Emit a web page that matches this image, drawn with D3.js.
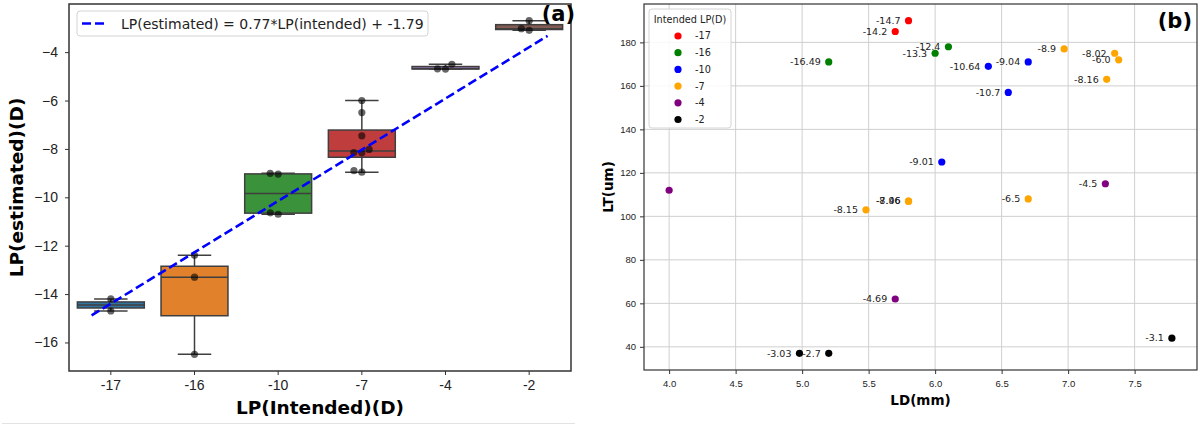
<!DOCTYPE html>
<html>
<head>
<meta charset="utf-8">
<script src="https://cdn.jsdelivr.net/npm/d3@7"></script>
<style>
  body { margin: 0; background: #fff; }
  svg { display: block; font-family: "DejaVu Sans", sans-serif; }
</style>
</head>
<body>
<svg id="chart" width="1200" height="426"></svg>
<script>
// intended lens power categories
const categories = [-17, -16, -10, -7, -4, -2];

// one entry per sample
const intendedLP = [-17, -17, -16, -16, -16, -10, -10, -10, -10, -7, -7, -7, -7, -7, -7, -7, -7, -4, -4, -4, -2, -2, -2];
const estimatedLP = [-14.7, -14.2, -16.49, -13.3, -12.4, -10.64, -9.04, -10.7, -9.01, -8.9, -8.02, -6.0, -8.16, -6.5, -8.15, -8.96, -7.46, -4.7, -4.5, -4.69, -3.03, -2.7, -3.1];
const ldValues = [5.8, 5.7, 5.2, 6.0, 6.1, 6.4, 6.7, 6.55, 6.05, 6.97, 7.35, 7.38, 7.29, 6.7, 5.48, 5.8, 5.8, 4.0, 7.28, 5.7, 4.98, 5.2, 7.78];
const ltValues = [190, 185, 171, 175, 178, 169, 171, 157, 125, 177, 175, 172, 163, 108, 103, 107, 107, 112, 115, 62, 37, 37, 44];
const hasLabel = [1, 1, 1, 1, 1, 1, 1, 1, 1, 1, 1, 1, 1, 1, 1, 1, 1, 0, 1, 1, 1, 1, 1];

// linear fit shown in panel (a)
const fitSlope = 0.77;
const fitIntercept = -1.79;
const fitX = [-17, -2];

const yTicksA = [-16, -14, -12, -10, -8, -6, -4];
const xTicksB = [4.0, 4.5, 5.0, 5.5, 6.0, 6.5, 7.0, 7.5];
const yTicksB = [40, 60, 80, 100, 120, 140, 160, 180];

const boxColors = ["#3274a1", "#e1812c", "#3a923a", "#c03d3e", "#9372b2", "#845b53"];
const dotColors = ["red", "green", "blue", "orange", "purple", "black"];

const svg = d3.select("#chart");
const pad5 = ext => { const m = (ext[1] - ext[0]) * 0.05; return [ext[0] - m, ext[1] + m]; };

// ---------------- panel (a) ----------------
const A = {left: 69, right: 571, top: 4, bottom: 371};
const samples = intendedLP.map((c, i) => ({c, est: estimatedLP[i], ld: ldValues[i], lt: ltValues[i], lab: hasLabel[i]}));

const xA = d3.scaleBand().domain(categories).range([A.left, A.right]);
const xIdx = d3.scaleLinear().domain([-0.5, categories.length - 0.5]).range([A.left, A.right]);
const fitY = fitX.map(x => fitSlope * x + fitIntercept);
const yA = d3.scaleLinear()
    .domain(pad5([Math.min(d3.min(estimatedLP), d3.min(fitY)), Math.max(d3.max(estimatedLP), d3.max(fitY))]))
    .range([A.bottom, A.top]);

const gA = svg.append("g");

gA.append("g")
    .attr("transform", `translate(0,${A.bottom})`)
    .call(d3.axisBottom(xA).tickSize(4).tickPadding(5))
    .call(g => g.select(".domain").remove())
    .call(g => g.selectAll("text").attr("font-size", 14).attr("fill", "#222"))
    .call(g => g.selectAll("line").attr("stroke", "#333"));

gA.append("g")
    .attr("transform", `translate(${A.left},0)`)
    .call(d3.axisLeft(yA).tickValues(yTicksA).tickSize(4).tickPadding(7))
    .call(g => g.select(".domain").remove())
    .call(g => g.selectAll("text").attr("font-size", 14).attr("fill", "#222"))
    .call(g => g.selectAll("line").attr("stroke", "#333"));

const boxW = xA.bandwidth() * 0.8;
const edge = "#3f3f3f";

categories.forEach((cat, ci) => {
    const vals = samples.filter(s => s.c === cat).map(s => s.est).sort(d3.ascending);
    const q1 = d3.quantileSorted(vals, 0.25), med = d3.quantileSorted(vals, 0.5), q3 = d3.quantileSorted(vals, 0.75);
    const iqr = q3 - q1;
    const lo = d3.min(vals.filter(v => v >= q1 - 1.5 * iqr));
    const hi = d3.max(vals.filter(v => v <= q3 + 1.5 * iqr));
    const cx = xA(cat) + xA.bandwidth() / 2;
    const g = gA.append("g");
    g.append("line").attr("x1", cx).attr("x2", cx).attr("y1", yA(q3)).attr("y2", yA(hi)).attr("stroke", edge).attr("stroke-width", 1.5);
    g.append("line").attr("x1", cx).attr("x2", cx).attr("y1", yA(q1)).attr("y2", yA(lo)).attr("stroke", edge).attr("stroke-width", 1.5);
    [lo, hi].forEach(v => g.append("line")
        .attr("x1", cx - boxW / 4).attr("x2", cx + boxW / 4)
        .attr("y1", yA(v)).attr("y2", yA(v))
        .attr("stroke", edge).attr("stroke-width", 1.5));
    g.append("rect")
        .attr("x", cx - boxW / 2).attr("width", boxW)
        .attr("y", yA(q3)).attr("height", Math.max(yA(q1) - yA(q3), 0.5))
        .attr("fill", boxColors[ci]).attr("stroke", edge).attr("stroke-width", 1.5);
    g.append("line").attr("x1", cx - boxW / 2).attr("x2", cx + boxW / 2)
        .attr("y1", yA(med)).attr("y2", yA(med)).attr("stroke", edge).attr("stroke-width", 1.5);

    // beeswarm of the samples
    const d = 8;
    const placed = [];
    vals.forEach(v => {
        const y = yA(v);
        const cands = [0];
        placed.forEach(p => {
            const dy = Math.abs(p.y - y);
            if (dy < d) { const dx = Math.sqrt(d * d - dy * dy); cands.push(p.x - dx, p.x + dx); }
        });
        cands.sort((a, b) => Math.abs(a) - Math.abs(b) || a - b);
        const x = cands.find(c => placed.every(p => Math.hypot(p.x - c, p.y - y) >= d - 1e-6));
        placed.push({x, y});
    });
    g.selectAll("circle").data(placed).join("circle")
        .attr("cx", p => cx + p.x).attr("cy", p => p.y).attr("r", 3.6)
        .attr("fill", "#000").attr("fill-opacity", 0.6);
});

// fitted line
const xFit = d3.scaleLinear().domain(fitX).range([xIdx(-0.23), xIdx(5.22)]);
gA.append("line")
    .attr("x1", xFit(fitX[0])).attr("y1", yA(fitY[0]))
    .attr("x2", xFit(fitX[1])).attr("y2", yA(fitY[1]))
    .attr("stroke", "#0000ff").attr("stroke-width", 2.6).attr("stroke-dasharray", "9,4");

gA.append("rect")
    .attr("x", A.left).attr("y", A.top)
    .attr("width", A.right - A.left).attr("height", A.bottom - A.top)
    .attr("fill", "none").attr("stroke", "#333").attr("stroke-width", 1.5);

// legend
const legA = gA.append("g").attr("transform", "translate(77,11)");
legA.append("rect").attr("width", 351).attr("height", 25).attr("rx", 3)
    .attr("fill", "#fff").attr("fill-opacity", 0.85).attr("stroke", "#d4d4d4");
legA.append("line").attr("x1", 5).attr("x2", 30).attr("y1", 12.5).attr("y2", 12.5)
    .attr("stroke", "#0000ff").attr("stroke-width", 2.6).attr("stroke-dasharray", "9,4");
legA.append("text").attr("x", 44).attr("y", 17.5).attr("font-size", 14).attr("fill", "#222")
    .text(`LP(estimated) = ${fitSlope}*LP(intended) + ${fitIntercept}`);

gA.append("text").attr("x", 575).attr("y", 21).attr("text-anchor", "end")
    .attr("font-size", 21).attr("font-weight", "bold").text("(a)");

gA.append("text").attr("x", (A.left + A.right) / 2).attr("y", 414).attr("text-anchor", "middle")
    .attr("font-size", 18.5).attr("font-weight", "bold").text("LP(Intended)(D)");
gA.append("text").attr("transform", `translate(23,${(A.top + A.bottom) / 2}) rotate(-90)`)
    .attr("text-anchor", "middle").attr("font-size", 18.5).attr("font-weight", "bold").text("LP(estimated)(D)");

svg.append("line").attr("x1", 2).attr("x2", 575).attr("y1", 423.5).attr("y2", 423.5).attr("stroke", "#e2e2e2");

// ---------------- panel (b) ----------------
const B = {left: 644, right: 1197, top: 4, bottom: 370};
const xB = d3.scaleLinear().domain(pad5(d3.extent(ldValues))).range([B.left, B.right]);
const yB = d3.scaleLinear().domain(pad5(d3.extent(ltValues))).range([B.bottom, B.top]);
const colorB = d3.scaleOrdinal().domain(categories).range(dotColors);

const gB = svg.append("g");

gB.append("g")
    .selectAll("line.gx").data(xTicksB).join("line")
    .attr("x1", d => xB(d)).attr("x2", d => xB(d)).attr("y1", B.top).attr("y2", B.bottom)
    .attr("stroke", "#cfcfcf").attr("stroke-width", 1);
gB.append("g")
    .selectAll("line.gy").data(yTicksB).join("line")
    .attr("y1", d => yB(d)).attr("y2", d => yB(d)).attr("x1", B.left).attr("x2", B.right)
    .attr("stroke", "#cfcfcf").attr("stroke-width", 1);

gB.append("g")
    .attr("transform", `translate(0,${B.bottom})`)
    .call(d3.axisBottom(xB).tickValues(xTicksB).tickFormat(d3.format(".1f")).tickSize(4).tickPadding(6))
    .call(g => g.select(".domain").remove())
    .call(g => g.selectAll("text").attr("font-size", 9.5).attr("fill", "#222"))
    .call(g => g.selectAll("line").attr("stroke", "#333"));
gB.append("g")
    .attr("transform", `translate(${B.left},0)`)
    .call(d3.axisLeft(yB).tickValues(yTicksB).tickSize(4).tickPadding(4))
    .call(g => g.select(".domain").remove())
    .call(g => g.selectAll("text").attr("font-size", 9.5).attr("fill", "#222"))
    .call(g => g.selectAll("line").attr("stroke", "#333"));

gB.selectAll("circle.pt").data(samples).join("circle")
    .attr("cx", s => xB(s.ld)).attr("cy", s => yB(s.lt)).attr("r", 3.6)
    .attr("fill", s => colorB(s.c));

const fmtLab = v => Number.isInteger(v) ? v.toFixed(1) : String(v);
gB.selectAll("text.lab").data(samples.filter(s => s.lab)).join("text")
    .attr("x", s => xB(s.ld) - 8).attr("y", s => yB(s.lt)).attr("dy", "0.35em")
    .attr("text-anchor", "end").attr("font-size", 9.5).attr("fill", "#222")
    .text(s => fmtLab(s.est));

gB.append("rect")
    .attr("x", B.left).attr("y", B.top)
    .attr("width", B.right - B.left).attr("height", B.bottom - B.top)
    .attr("fill", "none").attr("stroke", "#333").attr("stroke-width", 1.2);

// legend
const legB = gB.append("g").attr("transform", "translate(649,9)");
legB.append("rect").attr("width", 82).attr("height", 119).attr("rx", 3)
    .attr("fill", "#fff").attr("fill-opacity", 0.85).attr("stroke", "#d4d4d4");
legB.append("text").attr("x", 41).attr("y", 14).attr("text-anchor", "middle")
    .attr("font-size", 9.7).attr("fill", "#222").text("Intended LP(D)");
const rowsB = legB.selectAll("g.row").data(categories).join("g")
    .attr("transform", (d, i) => `translate(0,${27 + i * 16.7})`);
rowsB.append("circle").attr("cx", 29).attr("r", 3.6).attr("fill", d => colorB(d));
rowsB.append("text").attr("x", 46).attr("dy", "0.35em").attr("font-size", 9.7).attr("fill", "#222").text(d => d);

gB.append("text").attr("x", 1192).attr("y", 28).attr("text-anchor", "end")
    .attr("font-size", 21).attr("font-weight", "bold").text("(b)");

gB.append("text").attr("x", (B.left + B.right) / 2).attr("y", 405).attr("text-anchor", "middle")
    .attr("font-size", 13.5).attr("font-weight", "bold").text("LD(mm)");
gB.append("text").attr("transform", `translate(613,${(B.top + B.bottom) / 2}) rotate(-90)`)
    .attr("text-anchor", "middle").attr("font-size", 13.5).attr("font-weight", "bold").text("LT(um)");
</script>
</body>
</html>
